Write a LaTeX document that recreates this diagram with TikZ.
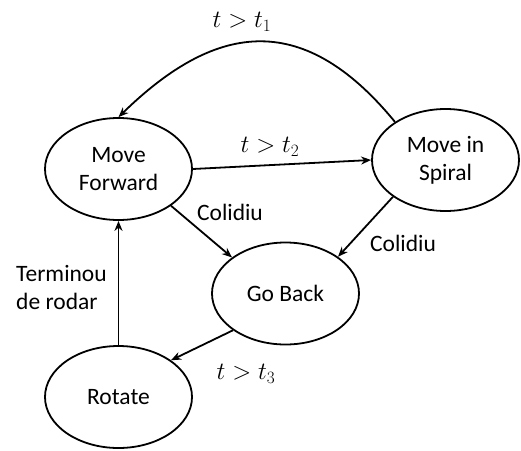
\documentclass[tikz,border=0pt]{standalone}
\usepackage{fontspec}
\setmainfont{Carlito}
\usetikzlibrary{arrows.meta,shapes.geometric}
\begin{document}
\begin{tikzpicture}[x=1pt,y=-1pt,
  state/.style={draw,ellipse,line width=1.8pt,minimum width=147pt,minimum height=102pt,inner sep=0pt,align=center,font=\fontsize{23.5}{28}\selectfont},
  lbl/.style={inner sep=0pt,font=\fontsize{23.5}{28}\selectfont},
  conn/.style={line width=1.8pt,-{Stealth[length=10pt,width=8pt]}}]
\useasboundingbox (0,0) rectangle (521,450);
\node[state] (mf) at (118.5,169) {Move\\Forward};
\node[state] (sp) at (445.5,160) {Move in\\Spiral};
\node[state] (gb) at (285.5,293.5) {Go Back};
\node[state] (ro) at (118.5,397) {Rotate};
\draw[conn] (sp.143) .. controls (300,6) and (212,26) .. (mf.north);
\draw[conn] (mf.east) -- (sp.west);
\draw[conn] (mf.-35) -- (gb.146);
\draw[conn] (sp.215) -- (gb.35);
\draw[conn] (gb.215) -- (ro.35);
\draw[conn] (ro.north) -- (mf.south);
\node[lbl] (l1) at (242,22) {$t>t_1$};
\node[lbl] (l2) at (270,147) {$t>t_2$};
\node[lbl] (l3) at (246,374) {$t>t_3$};
\node[lbl] (c1) at (230,212) {Colidiu};
\node[lbl] (c2) at (403,243) {Colidiu};
\node[lbl,align=left,anchor=west] (tr) at (16,287) {Terminou\\de rodar};
\end{tikzpicture}
\end{document}
